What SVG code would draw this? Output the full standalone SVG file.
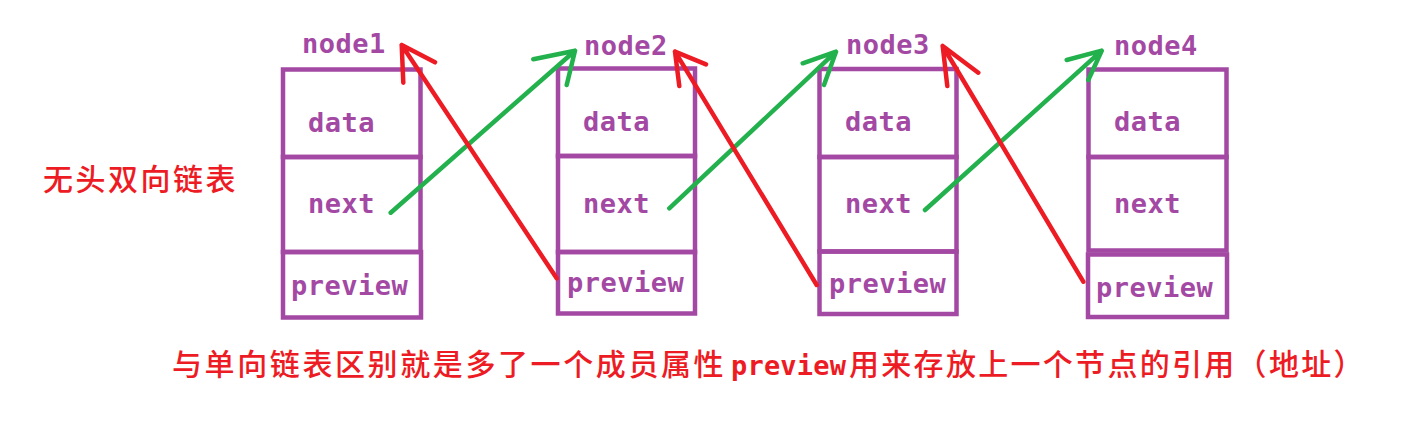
<svg xmlns="http://www.w3.org/2000/svg" width="1406" height="422" viewBox="0 0 1406 422">
<style>
.box{fill:none;stroke:#A349A4;stroke-width:4.5}
.lbl{font-family:"DejaVu Sans Mono","Liberation Mono",monospace;font-weight:bold;font-size:27px;fill:#A349A4;letter-spacing:0.5px}
.cn{font-family:"Noto Sans CJK SC",sans-serif;font-size:30px;fill:#ED1C24;font-weight:500}
.en{font-family:"DejaVu Sans Mono","Liberation Mono",monospace;font-weight:bold;font-size:27px;fill:#ED1C24}
.red{fill:none;stroke:#ED1C24;stroke-width:4.5;stroke-linecap:round;stroke-linejoin:round}
.green{fill:none;stroke:#22B14C;stroke-width:4.5;stroke-linecap:round;stroke-linejoin:round}
</style>
<rect width="1406" height="422" fill="#ffffff"/>
<g id="node1">
<rect class="box" x="283" y="69.5" width="137.5" height="87.5"/>
<rect class="box" x="283" y="157" width="137.5" height="95"/>
<rect class="box" x="283" y="252" width="138" height="65.5"/>
<text class="lbl" x="302" y="53">node1</text>
<text class="lbl" x="308" y="132">data</text>
<text class="lbl" x="308" y="213">next</text>
<text class="lbl" x="291" y="295">preview</text>
</g>
<g id="node2">
<rect class="box" x="558" y="68.5" width="137" height="87.5"/>
<rect class="box" x="558" y="156" width="137" height="96"/>
<rect class="box" x="558" y="252" width="137" height="61.5"/>
<text class="lbl" x="584" y="55">node2</text>
<text class="lbl" x="583" y="131">data</text>
<text class="lbl" x="583" y="213">next</text>
<text class="lbl" x="567" y="292">preview</text>
</g>
<g id="node3">
<rect class="box" x="819.5" y="69" width="137" height="88"/>
<rect class="box" x="819.5" y="157" width="137" height="94.5"/>
<rect class="box" x="819.5" y="251.5" width="137" height="62.5"/>
<text class="lbl" x="846" y="54">node3</text>
<text class="lbl" x="845" y="131">data</text>
<text class="lbl" x="845" y="213">next</text>
<text class="lbl" x="829" y="293">preview</text>
</g>
<g id="node4">
<rect class="box" x="1088.5" y="69.5" width="138" height="87.5"/>
<rect class="box" x="1088.5" y="157" width="138" height="93.5"/>
<rect class="box" x="1088" y="254.5" width="139" height="62.5"/>
<text class="lbl" x="1114" y="55">node4</text>
<text class="lbl" x="1114" y="131">data</text>
<text class="lbl" x="1114" y="213">next</text>
<text class="lbl" x="1096" y="297">preview</text>
</g>
<g id="connectors">
<path class="green" d="M390.7,212.7 L575,50.7 M533.3,59.3 L575,50.7 L566.7,85"/>
<path class="green" d="M669.3,208.3 L836,51.7 M802.7,63.3 L836,51.7 L824,85"/>
<path class="green" d="M925,210 L1101.7,50.7 M1066.7,60 L1101.7,50.7 L1088.3,80"/>
<path class="red" d="M556.7,278.3 L401.7,45 M435,62.3 L401.7,45 L403.3,82.7"/>
<path class="red" d="M816.7,285 L675,51.7 M706,64.3 L675,51.7 L679.3,86"/>
<path class="red" d="M1083.3,281.7 L942.7,46 M978.3,72.7 L942.7,46 L947.3,86"/>
</g>
<g id="title">
<text class="cn" x="43" y="190" letter-spacing="2.5">无头双向链表</text>
</g>
<g id="note">
<text class="cn" x="172" y="375" letter-spacing="2.6">与单向链表区别就是多了一个成员属性</text>
<text class="en" x="731" y="375" letter-spacing="0.2">preview</text>
<text class="cn" x="849" y="375" letter-spacing="2.3">用来存放上一个节点的引用（地址）</text>
</g>
</svg>
